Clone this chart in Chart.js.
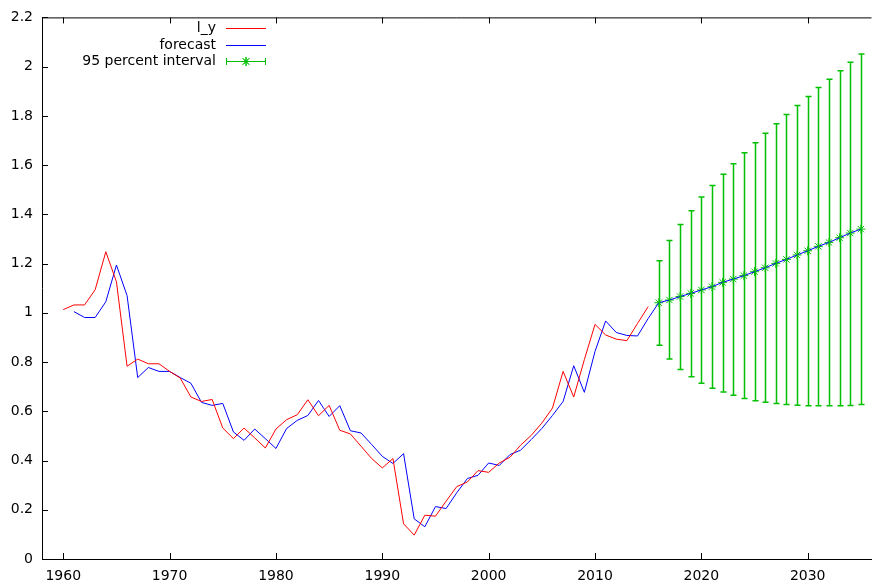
<!DOCTYPE html>
<html>
<head>
<meta charset="utf-8">
<script src="https://cdn.jsdelivr.net/npm/chart.js@4.4.1/dist/chart.umd.min.js"></script>
<style>
  html, body { margin: 0; padding: 0; background: #fff; }
</style>
</head>
<body>
<canvas id="grafico" width="877" height="583"></canvas>
<script>
// anos do eixo x
const anos = [1960, 1961, 1962, 1963, 1964, 1965, 1966, 1967, 1968, 1969,
              1970, 1971, 1972, 1973, 1974, 1975, 1976, 1977, 1978, 1979,
              1980, 1981, 1982, 1983, 1984, 1985, 1986, 1987, 1988, 1989,
              1990, 1991, 1992, 1993, 1994, 1995, 1996, 1997, 1998, 1999,
              2000, 2001, 2002, 2003, 2004, 2005, 2006, 2007, 2008, 2009,
              2010, 2011, 2012, 2013, 2014, 2015, 2016, 2017, 2018, 2019,
              2020, 2021, 2022, 2023, 2024, 2025, 2026, 2027, 2028, 2029,
              2030, 2031, 2032, 2033, 2034, 2035];

// serie observada (l_y), 1960-2015
const serieLy = [1.013, 1.032, 1.032, 1.094, 1.248, 1.126, 0.783, 0.812, 0.793, 0.793,
                 0.762, 0.735, 0.658, 0.640, 0.648, 0.532, 0.489, 0.532, 0.492, 0.451,
                 0.528, 0.566, 0.586, 0.647, 0.582, 0.624, 0.523, 0.508, 0.458, 0.408,
                 0.370, 0.408, 0.143, 0.097, 0.178, 0.174, 0.235, 0.294, 0.313, 0.359,
                 0.352, 0.390, 0.413, 0.462, 0.502, 0.552, 0.613, 0.762, 0.658, 0.810,
                 0.953, 0.910, 0.893, 0.887, 0.957, 1.025];

// previsao, 1961-2035
const previsao = [1.005, 0.981, 0.981, 1.045, 1.194, 1.070, 0.737, 0.778, 0.762,
                  0.762, 0.737, 0.714, 0.636, 0.624, 0.632, 0.516, 0.482, 0.528, 0.489,
                  0.449, 0.530, 0.563, 0.583, 0.644, 0.579, 0.623, 0.521, 0.512, 0.465,
                  0.417, 0.388, 0.428, 0.163, 0.131, 0.213, 0.205, 0.269, 0.327, 0.340,
                  0.390, 0.380, 0.424, 0.442, 0.485, 0.530, 0.583, 0.640, 0.785, 0.677,
                  0.843, 0.967, 0.920, 0.908, 0.906, 0.977, 1.041, 1.052, 1.066, 1.079,
                  1.093, 1.106, 1.124, 1.137, 1.151, 1.167, 1.183, 1.201, 1.217, 1.235,
                  1.252, 1.270, 1.286, 1.305, 1.324, 1.340];

// intervalo de 95%, 2016-2035
const anosIntervalo = [2016, 2017, 2018, 2019, 2020, 2021, 2022, 2023, 2024, 2025,
                       2026, 2027, 2028, 2029, 2030, 2031, 2032, 2033, 2034, 2035];
const limiteInferior = [0.868, 0.812, 0.770, 0.740, 0.714, 0.694, 0.678, 0.665, 0.652, 0.643,
                        0.637, 0.632, 0.628, 0.625, 0.623, 0.623, 0.623, 0.623, 0.624, 0.628];
const limiteSuperior = [1.211, 1.294, 1.359, 1.415, 1.470, 1.517, 1.563, 1.606, 1.650, 1.691,
                        1.729, 1.768, 1.806, 1.842, 1.879, 1.915, 1.949, 1.983, 2.018, 2.051];

const ticksX = [1960, 1970, 1980, 1990, 2000, 2010, 2020, 2030];
const ticksY = [0, 0.2, 0.4, 0.6, 0.8, 1, 1.2, 1.4, 1.6, 1.8, 2, 2.2];

const fonte = '14px "DejaVu Sans"';
const verde = '#00c000';

var dadosLy = serieLy.map(function (v, i) { return { x: anos[i], y: v }; });
var dadosPrev = previsao.map(function (v, i) { return { x: anos[i + 1], y: v }; });
var dadosMeio = anosIntervalo.map(function (a) {
    return { x: a, y: previsao[anos.indexOf(a) - 1] };
});

// barras de erro do intervalo
const barrasErro = {
    id: 'barrasErro',
    afterDatasetsDraw(chart) {
        const ctx = chart.ctx;
        const sx = chart.scales.x, sy = chart.scales.y;
        ctx.save();
        ctx.strokeStyle = verde;
        ctx.lineWidth = 1.5;
        for (var i = 0; i < anosIntervalo.length; i++) {
            var px = Math.round(sx.getPixelForValue(anosIntervalo[i])) + 0.5;
            var y1 = sy.getPixelForValue(limiteInferior[i]);
            var y2 = sy.getPixelForValue(limiteSuperior[i]);
            ctx.beginPath();
            ctx.moveTo(px, y1); ctx.lineTo(px, y2);
            ctx.moveTo(px - 3, y1); ctx.lineTo(px + 3, y1);
            ctx.moveTo(px - 3, y2); ctx.lineTo(px + 3, y2);
            ctx.stroke();
        }
        ctx.restore();
    }
};

// moldura superior, marcas internas e legenda estilo gnuplot
const moldura = {
    id: 'moldura',
    afterDraw(chart) {
        const ctx = chart.ctx, a = chart.chartArea;
        const sx = chart.scales.x, sy = chart.scales.y;
        ctx.save();
        ctx.strokeStyle = '#000';
        ctx.lineWidth = 1;
        ctx.beginPath();
        ctx.moveTo(a.left, a.top + 0.5); ctx.lineTo(a.right, a.top + 0.5);
        ticksX.forEach(function (t) {
            var px = Math.round(sx.getPixelForValue(t)) + 0.5;
            ctx.moveTo(px, a.bottom); ctx.lineTo(px, a.bottom - 6);
            ctx.moveTo(px, a.top); ctx.lineTo(px, a.top + 6);
        });
        ticksY.forEach(function (t) {
            var py = Math.round(sy.getPixelForValue(t)) + 0.5;
            ctx.moveTo(a.left, py); ctx.lineTo(a.left + 6, py);
        });
        ctx.stroke();

        // legenda
        ctx.font = fonte;
        ctx.fillStyle = '#000';
        ctx.textAlign = 'right';
        ctx.textBaseline = 'middle';
        var linhas = [28, 45, 61];
        chart.data.datasets.forEach(function (ds, i) {
            var y = linhas[i];
            ctx.fillText(ds.label, 216, y);
            ctx.strokeStyle = ds.borderColor;
            ctx.lineWidth = 1;
            ctx.beginPath();
            ctx.moveTo(226, y + 0.5); ctx.lineTo(266, y + 0.5);
            if (i === 2) {
                ctx.moveTo(226.5, y - 3); ctx.lineTo(226.5, y + 4);
                ctx.moveTo(265.5, y - 3); ctx.lineTo(265.5, y + 4);
            }
            ctx.stroke();
            if (i === 2) {
                Chart.helpers.drawPoint(ctx, { pointStyle: 'star', radius: 4.5, borderWidth: 1 }, 246, y + 0.5);
                ctx.stroke();
            }
        });
        ctx.restore();
    }
};

const ctx = document.getElementById('grafico');

new Chart(ctx, {
    type: 'line',
    data: {
        datasets: [{
            label: 'l_y',
            data: dadosLy,
            borderColor: '#ff0000',
            borderWidth: 1,
            pointRadius: 0,
            tension: 0
        }, {
            label: 'forecast',
            data: dadosPrev,
            borderColor: '#0000ff',
            borderWidth: 1,
            pointRadius: 0,
            tension: 0
        }, {
            label: '95 percent interval',
            data: dadosMeio,
            borderColor: verde,
            backgroundColor: verde,
            showLine: false,
            pointStyle: 'star',
            pointRadius: 4.5,
            pointBorderWidth: 1
        }]
    },
    options: {
        responsive: false,
        animation: false,
        events: [],
        layout: { padding: { top: 15, right: 0, left: 0, bottom: 0 } },
        plugins: {
            legend: { display: false },
            tooltip: { enabled: false }
        },
        scales: {
            x: {
                type: 'linear',
                min: 1958,
                max: 2036,
                afterBuildTicks: function (s) {
                    s.ticks = ticksX.map(function (v) { return { value: v }; });
                },
                afterFit: function (s) { s.height = 24; },
                grid: { display: false, drawTicks: false },
                border: { display: true, color: '#000', width: 1 },
                ticks: {
                    padding: 9,
                    color: '#000',
                    font: { family: 'DejaVu Sans', size: 14 },
                    maxRotation: 0,
                    callback: function (v) { return String(v); }
                }
            },
            y: {
                min: 0,
                max: 2.2,
                afterBuildTicks: function (s) {
                    s.ticks = ticksY.map(function (v) { return { value: v }; });
                },
                afterFit: function (s) { s.width = 42; },
                grid: { display: false, drawTicks: false },
                border: { display: true, color: '#000', width: 1 },
                ticks: {
                    padding: 9,
                    color: '#000',
                    font: { family: 'DejaVu Sans', size: 14 },
                    callback: function (v) { return String(+v.toFixed(1)); }
                }
            }
        }
    },
    plugins: [barrasErro, moldura]
});
</script>
</body>
</html>
